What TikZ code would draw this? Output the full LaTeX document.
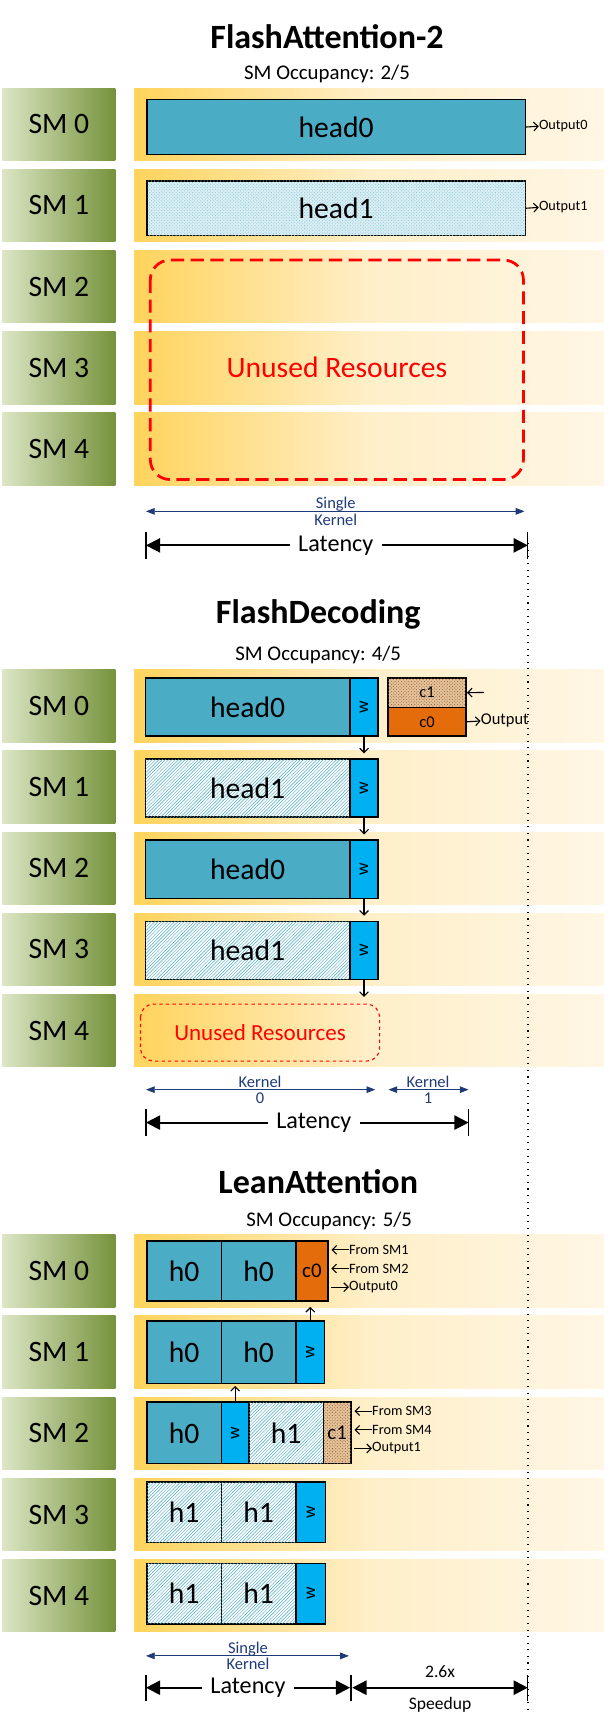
\documentclass[tikz,border=0pt]{standalone}
\usepackage{fontspec}
\setmainfont{Carlito}
\usetikzlibrary{patterns,arrows.meta}
\definecolor{gL}{HTML}{DCE6C4}\definecolor{gD}{HTML}{76923C}
\definecolor{yL}{HTML}{FFD35C}\definecolor{yR}{HTML}{FFF6E4}
\definecolor{hb}{HTML}{4BACC6}\definecolor{wb}{HTML}{00B0F0}
\definecolor{oc}{HTML}{E46C0A}\definecolor{bc}{HTML}{E8C49C}
\definecolor{kb}{HTML}{1F3A78}
\newcommand\fs[1]{\fontsize{#1}{#1}\selectfont}
\newcommand\bx[7]{\node[#6,draw=black,line width=1.5pt,inner sep=0,anchor=north west,minimum width={#4pt-#2pt},minimum height={#5pt-#3pt}] (#1) at (#2,#3) {#7};}
\tikzset{
 smlab/.style={left color=gL,right color=gD,minimum width=103pt,minimum height=66pt,inner sep=0,anchor=north west,font=\fs{27}},
 band/.style={left color=yL,right color=yR,middle color=yR!80!yL,minimum width=428pt,minimum height=66pt,inner sep=0,anchor=north west},
 hd/.style={fill=hb,font=\fs{27}},
 hdot/.style={fill=hb!20,postaction={pattern=crosshatch dots,pattern color=hb!70},font=\fs{27}},
 hhat/.style={fill=white,postaction={pattern=north east lines,pattern color=hb},font=\fs{27}},
 ww/.style={fill=wb,font=\fs{16}},
 c0s/.style={fill=oc,font=\fs{15}},
 c1s/.style={fill=bc,postaction={pattern=crosshatch dots,pattern color=brown!70!black},font=\fs{15}},
 sm/.style={font=\fs{13}},
 arr/.style={-{Straight Barb[length=4pt,width=8pt]},line width=1pt},
 lat/.style={line width=1.8pt,-{Triangle[length=13pt,width=13pt]}},
 kern/.style={kb,line width=0.8pt,{Triangle[length=8pt,width=6pt]}-{Triangle[length=8pt,width=6pt]}},
 kt/.style={kb,font=\fs{15},align=center,inner sep=0},
}
\begin{document}
\begin{tikzpicture}[x=1pt,y=-1pt]
\useasboundingbox[fill=white] (0,0) rectangle (557,1572);
\foreach \s/\t in {1/80,2/610,3/1125}{
 \foreach \i in {0,...,4}{
  \pgfmathsetmacro\yy{\t+74*\i}
  \node[smlab] (L\s\i) at (2,\yy) {SM \i};
  \node[band] (B\s\i) at (122,\yy) {};
 }}
% ---------- Section 1
\node[font=\bfseries\fs{31}] (t1) at (298,33) {FlashAttention-2};
\node[font=\fs{19}] (o1) at (298,67) {SM Occupancy: 2/5};
\bx{a0}{133}{90}{478}{140}{hd}{head0}
\bx{a1}{133}{164}{478}{214}{hdot}{head1}
\node[sm,anchor=west,inner sep=0] (ao0) at (491,115) {Output0};
\node[sm,anchor=west,inner sep=0] (ao1) at (491,189) {Output1};
\draw[arr] (a0.east) -- (ao0.west);
\draw[arr] (a1.east) -- (ao1.west);
\draw[red,line width=2.5pt,dash pattern=on 12pt off 6pt,rounded corners=18pt] (137,237) rectangle (477,437);
\node[red,font=\fs{27}] (u1) at (307,335) {Unused Resources};
\node[kt] (k1) at (306,466) {Single\\Kernel};
\coordinate (k1a) at (133,466);\coordinate (k1b) at (478,466);
\draw[kern] (k1a) -- (k1b);
\node[font=\fs{22}] (lt1) at (306,497) {Latency};
\coordinate (l1a) at (133,497);\coordinate (l1b) at (481,497);
\draw[lat] ([xshift=-4pt]lt1.west) -- (l1a);\draw[lat] ([xshift=4pt]lt1.east) -- (l1b);
\draw[line width=1.2pt] (133,485) -- (133,509) (481,485) -- (481,509);
\draw[line width=1.3pt,dash pattern=on 1pt off 5pt] (481,495) -- (481,1562);
% ---------- Section 2
\node[font=\bfseries\fs{31}] (t2) at (290,560) {FlashDecoding};
\node[font=\fs{19}] (o2) at (290,597) {SM Occupancy: 4/5};
\foreach \i/\st/\tx in {0/hd/head0,1/hhat/head1,2/hd/head0,3/hhat/head1}{
 \pgfmathsetmacro\ya{617+74*\i}\pgfmathsetmacro\yb{\ya+53}
 \bx{d\i}{132}{\ya}{318}{\yb}{\st}{\tx}
 \bx{w\i}{318}{\ya}{344}{\yb}{ww}{\rotatebox{90}{w}}
 \coordinate (wd\i) at ([yshift=-15pt]w\i.south);
 \draw[arr] (w\i.south) -- (wd\i);
}
\bx{c1}{353}{617}{424}{644}{c1s}{c1}
\bx{c0}{353}{644}{424}{670}{c0s}{c0}
\coordinate (c1in) at (441,631);
\draw[arr] (c1in) -- (c1.east);
\node[font=\fs{15},anchor=west,inner sep=0] (oo) at (438,657) {Output};
\draw[arr] (c0.east) -- (oo.west);
\draw[red,line width=1pt,dashed,rounded corners=12pt] (128,915) rectangle (346,967);
\node[red,font=\fs{21}] (u2) at (237,941) {Unused Resources};
\node[kt] (k2) at (237,993) {Kernel\\0};
\coordinate (k2a) at (133,993);\coordinate (k2b) at (342,993);
\draw[kern] (k2a) -- (k2b);
\node[kt] (k3) at (390,993) {Kernel\\1};
\coordinate (k3a) at (354,993);\coordinate (k3b) at (427,993);
\draw[kern] (k3a) -- (k3b);
\node[font=\fs{22}] (lt2) at (286,1023) {Latency};
\coordinate (l2a) at (133,1023);\coordinate (l2b) at (427,1023);
\draw[lat] ([xshift=-4pt]lt2.west) -- (l2a);\draw[lat] ([xshift=4pt]lt2.east) -- (l2b);
\draw[line width=1.2pt] (133,1011) -- (133,1035) (427,1011) -- (427,1035);
% ---------- Section 3
\node[font=\bfseries\fs{31}] (t3) at (290,1077) {LeanAttention};
\node[font=\fs{19}] (o3) at (300,1113) {SM Occupancy: 5/5};
\bx{e00}{133}{1130}{201}{1185}{hd}{h0}
\bx{e01}{201}{1130}{269}{1185}{hd}{h0}
\bx{e02}{269}{1130}{298}{1185}{c0s}{\fs{19}c0}
\bx{e10}{133}{1203}{201}{1260}{hd}{h0}
\bx{e11}{201}{1203}{269}{1260}{hd}{h0}
\bx{e12}{269}{1203}{295}{1260}{ww}{\rotatebox{90}{w}}
\bx{e20}{133}{1277}{201}{1333}{hd}{h0}
\bx{e21}{201}{1277}{226}{1333}{ww}{\rotatebox{90}{w}}
\bx{e22}{226}{1277}{294}{1333}{hhat}{h1}
\bx{e23}{294}{1277}{319}{1333}{c1s}{\fs{19}c1}
\foreach \i in {3,4}{
 \pgfmathsetmacro\ya{1350+74*(\i-3)}\pgfmathsetmacro\yb{\ya+55}
 \bx{e\i0}{133}{\ya}{201}{\yb}{hhat}{h1}
 \bx{e\i1}{201}{\ya}{269}{\yb}{hhat}{h1}
 \bx{e\i2}{269}{\ya}{296}{\yb}{ww}{\rotatebox{90}{w}}
}
\coordinate (up1) at ([yshift=12pt]e12.north);
\draw[arr] (e12.north) -- (up1);
\coordinate (up2) at ([yshift=14pt]e21.north);
\draw[arr] (e21.north) -- (up2);
\foreach \n/\y/\tx/\d in {f1/1139/From SM1/l,f2/1156/From SM2/l,f3/1173/Output0/r}{
 \node[sm,anchor=west,inner sep=0] (\n) at (318,\y) {\tx};
 \coordinate (\n a) at (302,\y);
 \if\d l \draw[arr] (\n.west) -- (\n a); \else \draw[arr] (\n a) -- (\n.west); \fi
}
\foreach \n/\y/\tx/\d in {g1/1286/From SM3/l,g2/1303/From SM4/l,g3/1320/Output1/r}{
 \node[sm,anchor=west,inner sep=0] (\n) at (339,\y) {\tx};
 \coordinate (\n a) at (323,\y);
 \if\d l \draw[arr] (\n.west) -- (\n a); \else \draw[arr] (\n a) -- (\n.west); \fi
}
\node[kt] (k4) at (226,1509) {Single\\Kernel};
\coordinate (k4a) at (133,1509);\coordinate (k4b) at (318,1509);
\draw[kern] (k4a) -- (k4b);
\node[font=\fs{22}] (lt3) at (226,1538) {Latency};
\coordinate (l3a) at (133,1538);\coordinate (l3b) at (319,1538);
\draw[lat] ([xshift=-4pt]lt3.west) -- (l3a);\draw[lat] ([xshift=4pt]lt3.east) -- (l3b);
\coordinate (s3a) at (321,1538);\coordinate (s3b) at (481,1538);
\draw[lat,{Triangle[length=13pt,width=13pt]}-{Triangle[length=13pt,width=13pt]}] (s3a) -- (s3b);
\node[font=\fs{16}] (sp1) at (401,1523) {2.6x};
\node[font=\fs{16}] (sp2) at (401,1554) {Speedup};
\draw[line width=1.2pt] (133,1526) -- (133,1550) (320,1526) -- (320,1550) (481,1526) -- (481,1550);
\end{tikzpicture}
\end{document}
